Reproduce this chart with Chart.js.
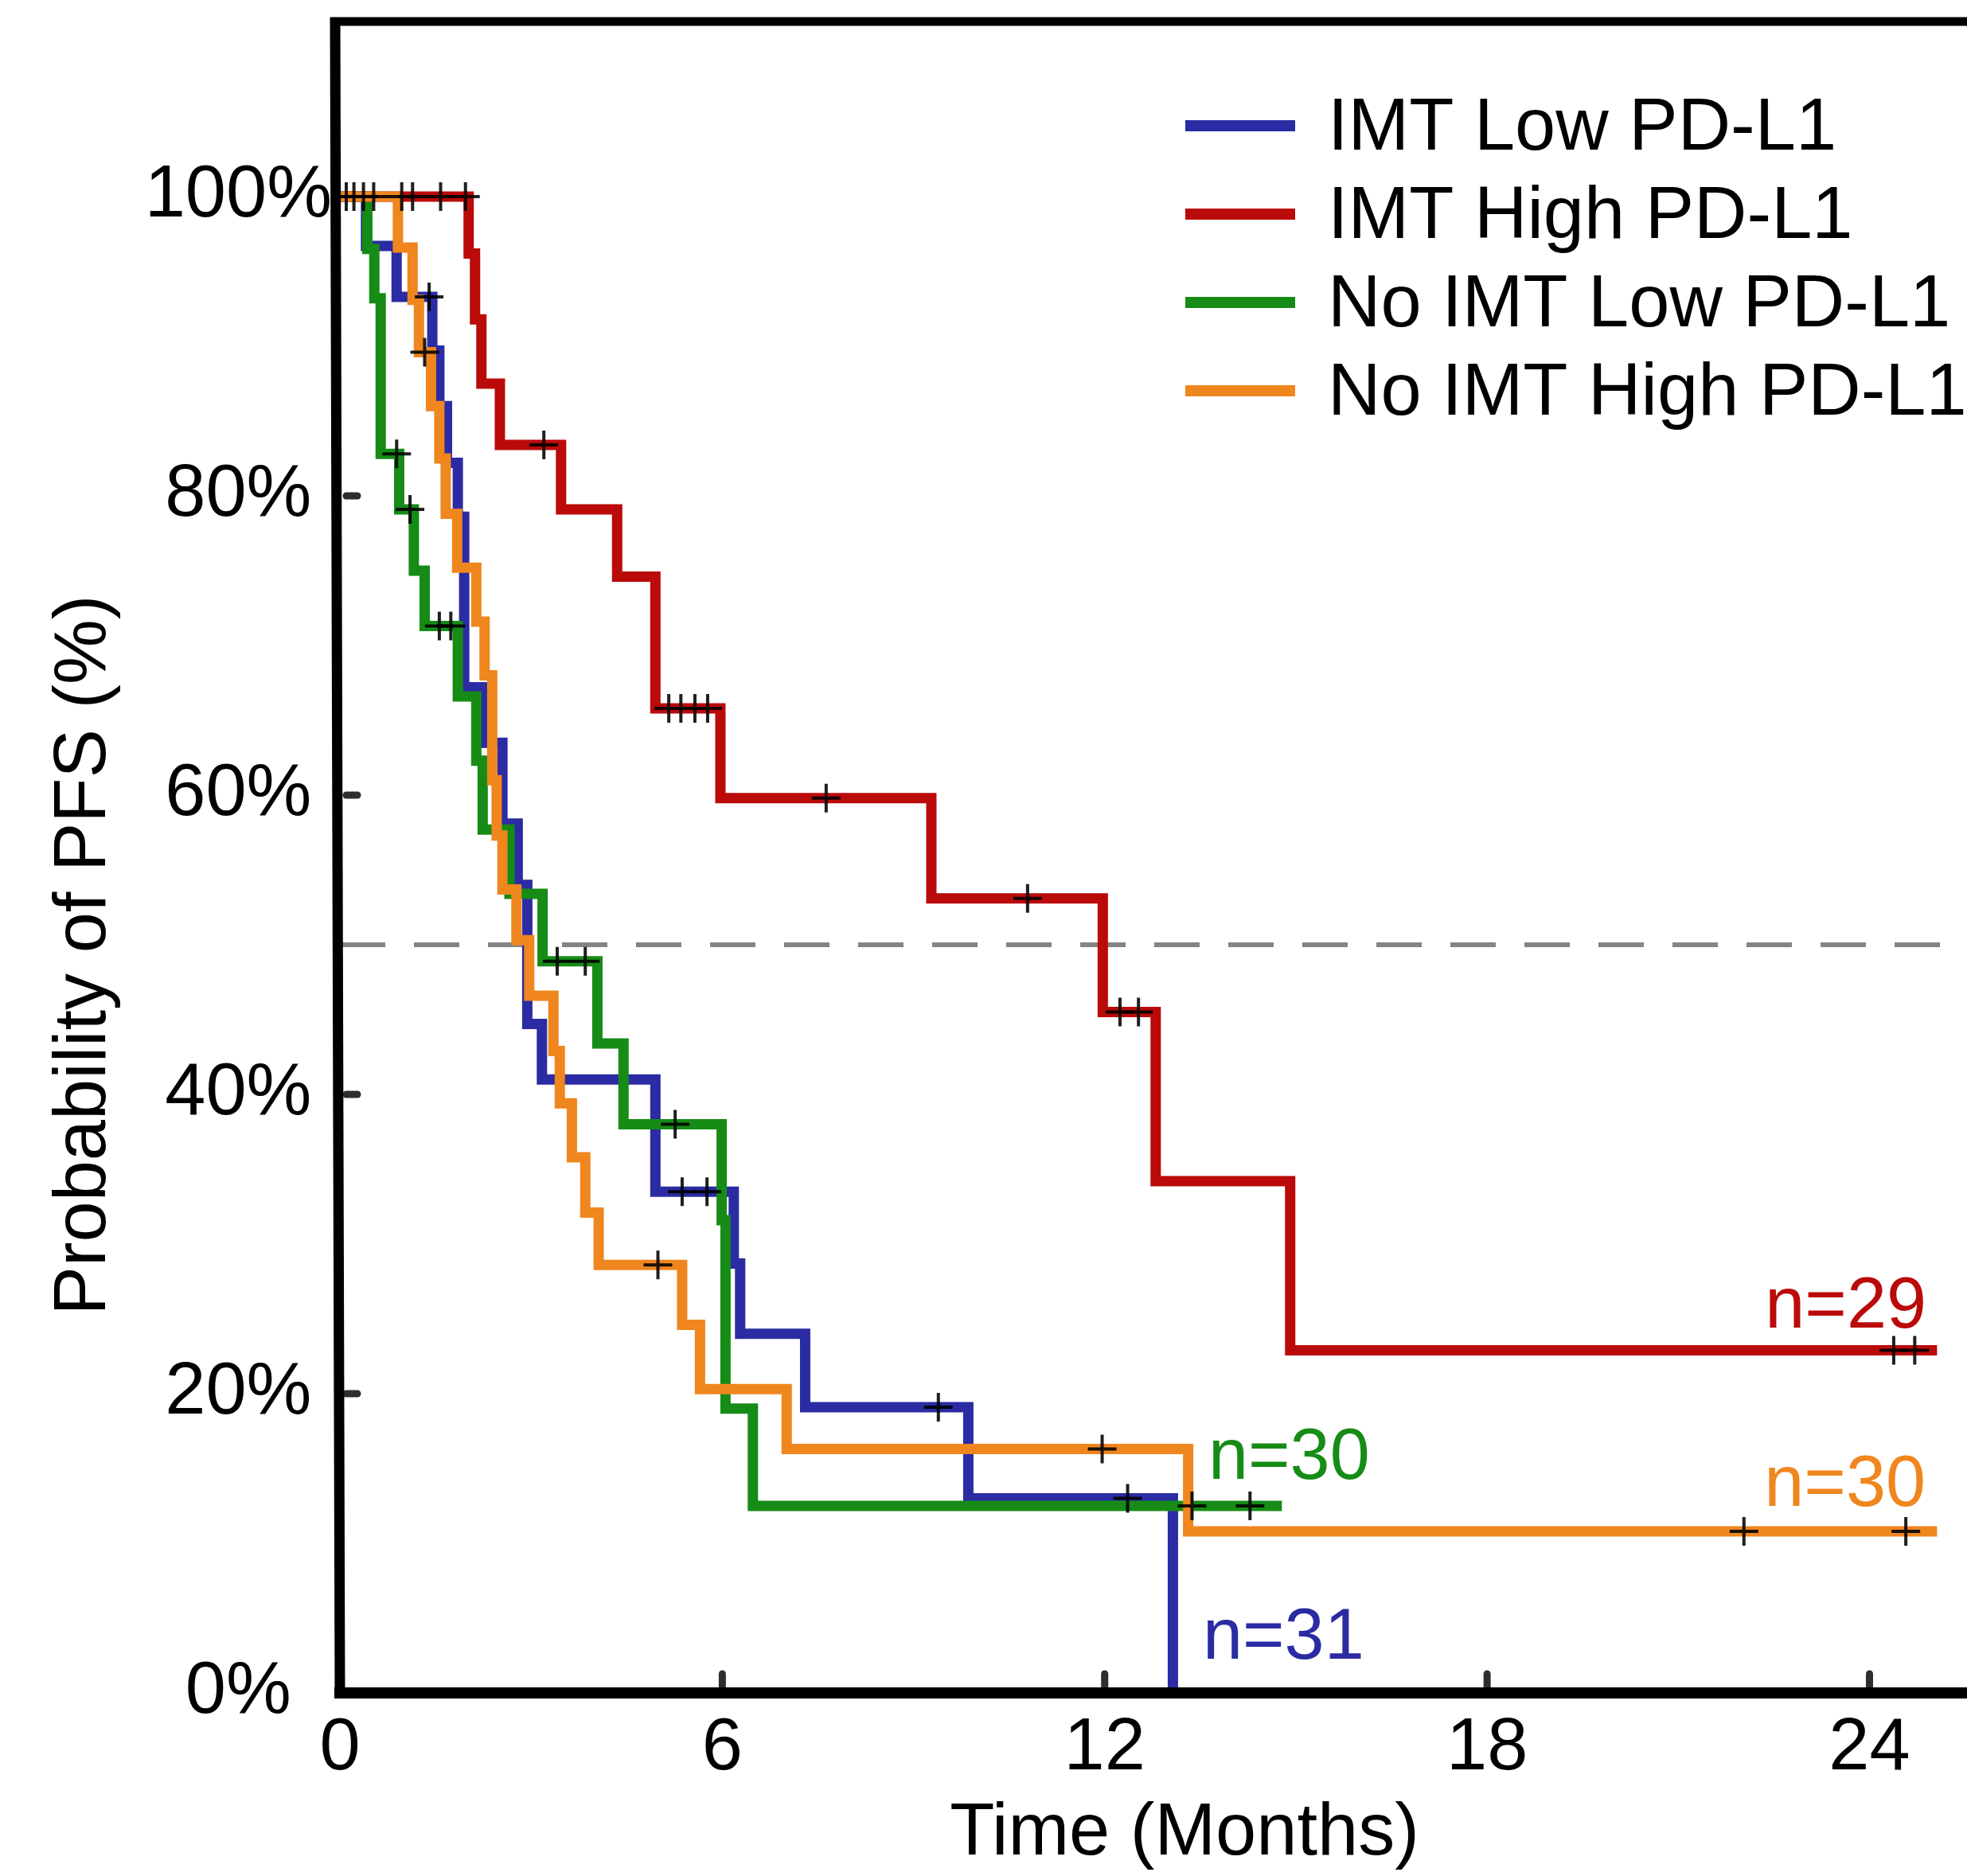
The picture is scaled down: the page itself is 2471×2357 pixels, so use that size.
<!DOCTYPE html>
<html>
<head>
<meta charset="utf-8">
<script src="https://cdn.jsdelivr.net/npm/chart.js@4.4.1/dist/chart.umd.min.js"></script>
<style>
html,body{margin:0;padding:0;background:#ffffff;overflow:hidden}
canvas{display:block}
</style>
</head>
<body>
<canvas id="c" width="2471" height="2357"></canvas>
<script>
// ---------- data ----------
const seriesLabels = ['IMT Low PD-L1', 'IMT High PD-L1', 'No IMT Low PD-L1', 'No IMT High PD-L1'];
const groupSizeLabels = ['n=31', 'n=29', 'n=30', 'n=30'];

const xTickValues = [0, 6, 12, 18, 24];
const xTickLabels = ['0', '6', '12', '18', '24'];
const yTickValues = [0, 20, 40, 60, 80, 100];
const yTickLabels = ['0%', '20%', '40%', '60%', '80%', '100%'];

const xTitle = 'Time (Months)';
const yTitle = 'Probability of PFS (%)';
const medianLevel = 50;

// IMT Low PD-L1 (blue)
const blueTimes = [0, 0.41, 0.89, 1.45, 1.56, 1.68, 1.85, 1.95, 2.24, 2.55, 2.79, 2.94, 3.17, 4.95, 6.18, 6.28, 7.30, 9.86, 13.07];
const blueSurv  = [100, 96.7, 93.3, 89.7, 86.0, 82.2, 78.6, 67.2, 63.5, 58.1, 54.0, 44.7, 41.0, 33.5, 28.7, 24.0, 19.1, 13.0, 0];
const blueCensor = [1.40, 5.37, 5.76, 9.39, 12.36];

// IMT High PD-L1 (red)
const redTimes = [0, 2.02, 2.12, 2.22, 2.51, 3.47, 4.35, 4.95, 5.97, 9.28, 11.97, 12.80, 14.91, 25.06];
const redSurv  = [100, 96.2, 91.8, 87.5, 83.4, 79.1, 74.6, 65.8, 59.8, 53.1, 45.5, 34.2, 22.9, 22.9];
const redCensor = [0.97, 1.14, 1.58, 1.97, 3.20, 5.16, 5.35, 5.57, 5.77, 7.63, 10.79, 12.24, 12.53, 24.38, 24.71];

// No IMT Low PD-L1 (green)
const greenTimes = [0, 0.43, 0.54, 0.64, 0.93, 1.16, 1.33, 1.85, 2.14, 2.24, 2.66, 3.18, 4.04, 4.45, 5.99, 6.05, 6.48, 14.78];
const greenSurv  = [100, 96.5, 93.2, 82.8, 79.1, 75.0, 71.3, 66.6, 62.3, 57.7, 53.4, 48.9, 43.4, 38.0, 31.6, 19.0, 12.5, 12.5];
const greenCensor = [0.89, 1.10, 1.56, 1.74, 3.41, 3.85, 5.26, 13.37, 14.28];

// No IMT High PD-L1 (orange)
const orangeTimes = [0, 0.91, 1.14, 1.24, 1.43, 1.56, 1.66, 1.84, 2.14, 2.27, 2.39, 2.46, 2.55, 2.77, 2.97, 3.35, 3.45, 3.64, 3.85, 4.06, 5.37, 5.65, 7.01, 13.31, 25.06];
const orangeSurv  = [100, 96.6, 93.1, 89.6, 86.0, 82.5, 78.8, 75.2, 71.6, 68.0, 61.0, 57.3, 53.7, 50.3, 46.6, 42.9, 39.4, 35.8, 32.1, 28.6, 24.6, 20.3, 16.3, 10.8, 10.8];
const orangeCensor = [0.10, 0.22, 0.37, 0.53, 1.33, 4.99, 11.96, 22.03, 24.57];

// ---------- styles / layout ----------
const colors = ['#2b2ba3', '#bb0a0a', '#168c16', '#ef861e'];
const FONT = "'Liberation Sans', Arial, Helvetica, sans-serif";
const X_MAX = 25.53, Y_MAX = 111.7;
const legendLayout = { lineX0: 1489, lineX1: 1627, textX: 1668, firstBaseline: 188, rowGap: 111, lineRise: 30, size: 92 };
const countLayout = [
  { x: 1511, y: 2084, align: 'left' },   // n=31 blue
  { x: 2420, y: 1668, align: 'right' },  // n=29 red
  { x: 1518, y: 1858, align: 'left' },   // n=30 green
  { x: 2419, y: 1892, align: 'right' }   // n=30 orange
];

// ---------- helpers ----------
function toPoints(times, surv) { return times.map((t, i) => ({ x: t, y: surv[i] })); }
function stepAt(times, surv, t) {
  let v = surv[0];
  for (let i = 0; i < times.length; i++) { if (times[i] <= t) v = surv[i]; }
  return v;
}
function censorPoints(times, surv, cens) { return cens.map(t => ({ x: t, y: stepAt(times, surv, t) })); }

const groups = [
  [blueTimes, blueSurv, blueCensor],
  [redTimes, redSurv, redCensor],
  [greenTimes, greenSurv, greenCensor],
  [orangeTimes, orangeSurv, orangeCensor]
];
const drawOrder = [4, 2, 3, 1]; // higher = drawn first (below)

const datasets = [];
datasets.push({
  label: 'median',
  data: [{ x: 0, y: medianLevel }, { x: X_MAX, y: medianLevel }],
  showLine: true, borderColor: 'rgba(125,125,125,0.95)', borderWidth: 6,
  borderDash: [57, 36], pointRadius: 0, order: 6
});
groups.forEach((g, i) => {
  datasets.push({
    label: seriesLabels[i],
    data: toPoints(g[0], g[1]),
    showLine: true, stepped: 'before',
    borderColor: colors[i], backgroundColor: colors[i],
    borderWidth: 13, pointRadius: 0, fill: false,
    borderCapStyle: 'butt', borderJoinStyle: 'miter',
    order: drawOrder[i]
  });
});
groups.forEach((g, i) => {
  datasets.push({
    label: seriesLabels[i] + ' censored',
    data: censorPoints(g[0], g[1], g[2]),
    showLine: false, pointStyle: 'cross', pointRadius: 18,
    pointBorderWidth: 4, pointBorderColor: 'rgba(0,0,0,0.88)',
    pointBackgroundColor: 'rgba(0,0,0,0.88)', order: 0
  });
});

const decor = {
  id: 'decor',
  afterDraw(chart) {
    const ctx = chart.ctx, xs = chart.scales.x, ys = chart.scales.y, a = chart.chartArea;
    const W = chart.width;
    ctx.save();
    // tick marks (inside)
    ctx.strokeStyle = '#2e2e2e'; ctx.lineCap = 'round'; ctx.lineWidth = 9;
    yTickValues.forEach(v => {
      if (v <= 0 || v >= 100) return;
      const py = ys.getPixelForValue(v);
      ctx.beginPath(); ctx.moveTo(a.left + 8, py); ctx.lineTo(a.left + 22, py); ctx.stroke();
    });
    xTickValues.forEach(v => {
      if (v <= 0) return;
      const px = xs.getPixelForValue(v);
      ctx.beginPath(); ctx.moveTo(px, a.bottom - 8); ctx.lineTo(px, a.bottom - 24); ctx.stroke();
    });
    // frame
    ctx.strokeStyle = '#000'; ctx.lineCap = 'butt';
    ctx.lineWidth = 11;
    ctx.beginPath(); ctx.moveTo(a.left - 12, a.top); ctx.lineTo(W, a.top); ctx.stroke();
    ctx.lineWidth = 14;
    ctx.beginPath(); ctx.moveTo(a.left - 7, a.bottom); ctx.lineTo(W, a.bottom); ctx.stroke();
    ctx.lineWidth = 13;
    ctx.beginPath(); ctx.moveTo(a.left - 6, a.top - 5); ctx.lineTo(a.left, a.bottom + 7); ctx.stroke();

    // axis titles
    ctx.fillStyle = '#000';
    ctx.font = '92px ' + FONT;
    ctx.textAlign = 'center'; ctx.textBaseline = 'middle';
    ctx.fillText(xTitle, 1488, 2305);
    ctx.save();
    ctx.translate(107, 1200); ctx.rotate(-Math.PI / 2);
    ctx.fillText(yTitle, 0, 0);
    ctx.restore();

    // legend
    const L = legendLayout;
    ctx.textAlign = 'left'; ctx.textBaseline = 'alphabetic';
    ctx.font = L.size + 'px ' + FONT;
    seriesLabels.forEach((lab, i) => {
      const base = L.firstBaseline + i * L.rowGap;
      ctx.strokeStyle = colors[i]; ctx.lineWidth = 14;
      ctx.beginPath(); ctx.moveTo(L.lineX0, base - L.lineRise); ctx.lineTo(L.lineX1, base - L.lineRise); ctx.stroke();
      ctx.fillStyle = '#000';
      ctx.fillText(lab, L.textX, base);
    });

    // group sizes
    ctx.font = '90px ' + FONT;
    groupSizeLabels.forEach((t, i) => {
      const p = countLayout[i];
      ctx.fillStyle = colors[i]; ctx.textAlign = p.align;
      ctx.fillText(t, p.x, p.y);
    });
    ctx.restore();
  }
};

function zeroPad(s) { s.paddingTop = 0; s.paddingBottom = 0; s.paddingLeft = 0; s.paddingRight = 0; }

new Chart(document.getElementById('c'), {
  type: 'scatter',
  data: { datasets },
  options: {
    responsive: false,
    devicePixelRatio: 1,
    animation: false,
    layout: { autoPadding: false, padding: { top: 27, left: 0, right: 0, bottom: 0 } },
    plugins: { legend: { display: false }, tooltip: { enabled: false } },
    scales: {
      x: {
        type: 'linear', min: 0, max: X_MAX,
        afterBuildTicks: s => { s.ticks = xTickValues.map(v => ({ value: v })); },
        afterFit: s => { s.height = 230; zeroPad(s); },
        grid: { display: false, drawTicks: false },
        border: { display: false },
        ticks: {
          font: { size: 92, family: FONT }, color: '#000', padding: 15,
          maxRotation: 0, autoSkip: false,
          callback: (v, i) => xTickLabels[i]
        }
      },
      y: {
        type: 'linear', min: 0, max: Y_MAX,
        afterBuildTicks: s => { s.ticks = yTickValues.map(v => ({ value: v })); },
        afterFit: s => { s.width = 427; zeroPad(s); },
        grid: { display: false, drawTicks: false },
        border: { display: false },
        ticks: {
          font: { size: 92, family: FONT }, color: '#000', padding: 10,
          crossAlign: 'center', autoSkip: false,
          callback: (v, i) => yTickLabels[i]
        }
      }
    }
  },
  plugins: [decor]
});
</script>
</body>
</html>
